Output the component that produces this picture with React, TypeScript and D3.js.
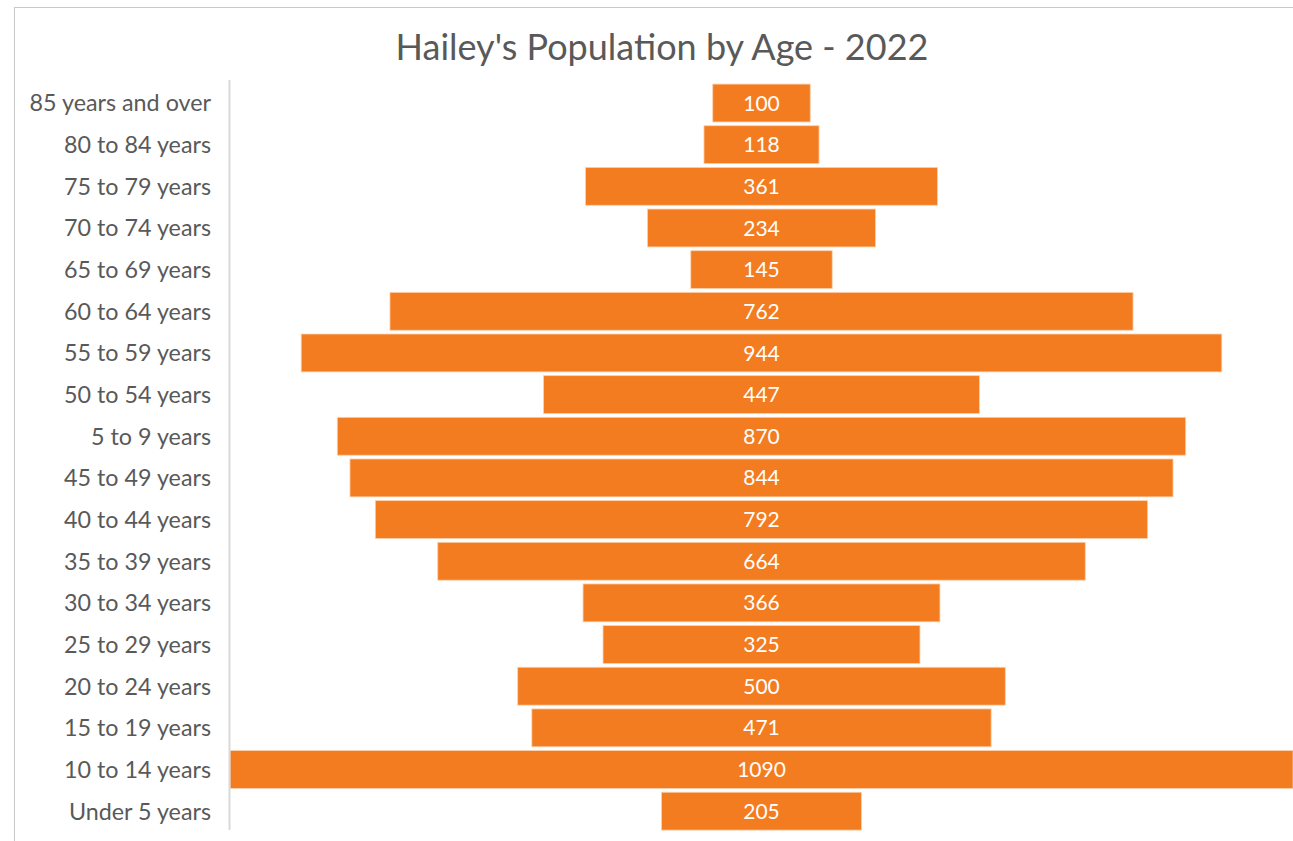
import React from "react";
import * as d3 from "d3";

const categories = [
  "85 years and over",
  "80 to 84 years",
  "75 to 79 years",
  "70 to 74 years",
  "65 to 69 years",
  "60 to 64 years",
  "55 to 59 years",
  "50 to 54 years",
  "5 to 9 years",
  "45 to 49 years",
  "40 to 44 years",
  "35 to 39 years",
  "30 to 34 years",
  "25 to 29 years",
  "20 to 24 years",
  "15 to 19 years",
  "10 to 14 years",
  "Under 5 years",
];
const values = [100, 118, 361, 234, 145, 762, 944, 447, 870, 844, 792, 664, 366, 325, 500, 471, 1090, 205];
const title = "Hailey's Population by Age - 2022";

const W = 1293;
const H = 841;
const FONT = "Lato, 'Open Sans', sans-serif";

export default function App() {
  const maxV = d3.max(values) as number;
  const x = d3.scaleLinear().domain([-maxV / 2, maxV / 2]).range([230, 1293]);
  const y = d3.scaleBand<string>().domain(categories).range([82.2, 832]).paddingInner(0.09).paddingOuter(0.045);

  return (
    <svg width={W} height={H} style={{ position: "absolute", left: 0, top: 0, background: "#fff" }}>
      <rect x={14.5} y={7.5} width={W + 10} height={H + 10} fill="#fff" stroke="#c8c8c8" strokeWidth={1} />
      <text x={662} y={60} textAnchor="middle" fontFamily={FONT} fontSize={36} fill="#595959">
        {title}
      </text>
      {categories.map((c, i) => {
        const v = values[i];
        const y0 = y(c) as number;
        const bw = y.bandwidth();
        return (
          <g key={c}>
            <rect
              x={x(-v / 2)}
              y={y0}
              width={x(v / 2) - x(-v / 2)}
              height={bw}
              fill="#F47C20"
              stroke="#fbd2b0"
              strokeWidth={0.8}
            />
            <text
              x={x(0)}
              y={y0 + bw / 2}
              dy="0.36em"
              textAnchor="middle"
              fontFamily={FONT}
              fontSize={21}
              fill="#ffffff"
            >
              {v}
            </text>
            <text
              x={211}
              y={y0 + bw / 2}
              dy="0.36em"
              textAnchor="end"
              fontFamily={FONT}
              fontSize={23.3}
              fill="#595959"
            >
              {c}
            </text>
          </g>
        );
      })}
      <line x1={229.5} x2={229.5} y1={80} y2={830} stroke="#d9d9d9" strokeWidth={2} />
    </svg>
  );
}
